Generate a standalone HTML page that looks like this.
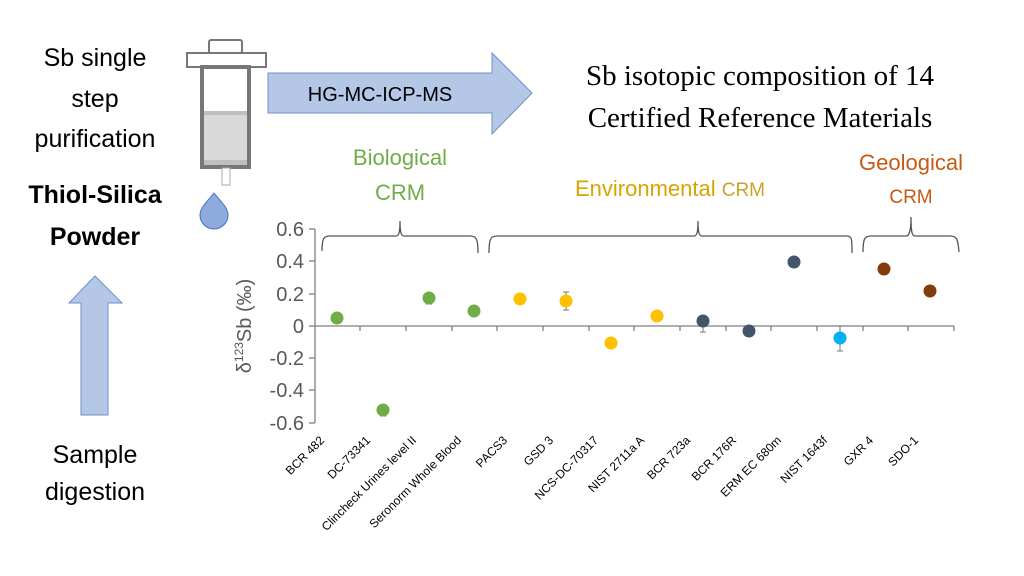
<!DOCTYPE html>
<html><head><meta charset="utf-8"><style>
html,body{margin:0;padding:0;background:#fff;}
svg{display:block;}
</style></head><body>
<svg width="1024" height="576" viewBox="0 0 1024 576" xmlns="http://www.w3.org/2000/svg" font-family="Liberation Sans, sans-serif">
<rect width="1024" height="576" fill="#fff"/>
<g font-size="25" text-anchor="middle" fill="#000">
<text x="95" y="66">Sb single</text>
<text x="95" y="107">step</text>
<text x="95" y="147">purification</text>
<text x="95" y="203" font-weight="bold">Thiol-Silica</text>
<text x="95" y="245" font-weight="bold">Powder</text>
<text x="95" y="463">Sample</text>
<text x="95" y="500">digestion</text>
</g>
<polygon points="95,276 122,303 108,303 108,415 81,415 81,303 69,303" fill="#b4c7e7" stroke="#6f8fc7" stroke-width="1"/>
<rect x="209" y="40" width="33" height="13" rx="2" fill="#fff" stroke="#777" stroke-width="2"/>
<rect x="187" y="53" width="79" height="14" fill="#fff" stroke="#777" stroke-width="2"/>
<rect x="202" y="67" width="47" height="100" fill="#fff" stroke="#777" stroke-width="4"/>
<rect x="204" y="111" width="43" height="54" fill="#d9d9d9"/>
<rect x="204" y="111" width="43" height="4" fill="#bfbfbf"/>
<rect x="204" y="160" width="43" height="5" fill="#bfbfbf"/>
<rect x="222" y="168" width="8" height="17" fill="#fff" stroke="#aaa" stroke-width="1"/>
<path d="M214,193 C222,203 228,208 228,215 A14,14 0 0 1 200,215 C200,208 206,203 214,193 Z" fill="#8faadc" stroke="#4472c4" stroke-width="1"/>
<polygon points="268,73 492,73 492,53 532,93 492,134 492,113 268,113" fill="#b4c7e7" stroke="#6f8fc7" stroke-width="1"/>
<text x="380" y="101" font-size="20" text-anchor="middle" fill="#000">HG-MC-ICP-MS</text>
<g font-family="Liberation Serif, serif" font-size="29" text-anchor="middle" fill="#000">
<text x="760" y="85">Sb isotopic composition of 14</text>
<text x="760" y="127">Certified Reference Materials</text>
</g>
<g font-size="22" text-anchor="middle">
<text x="400" y="165" fill="#70ad47">Biological</text>
<text x="400" y="200" fill="#70ad47">CRM</text>
<text x="670" y="196"><tspan fill="#d9a300">Environmental</tspan> <tspan font-size="19" fill="#c9a227">CRM</tspan></text>
<text x="911" y="170" fill="#c55a11">Geological</text>
<text x="911" y="203" font-size="19" fill="#c55a11">CRM</text>
</g>
<g fill="none" stroke="#555" stroke-width="1.3">
<path d="M322,251 C322,238 324,236 330,236 L396,236 C399,236 400,232 400,221 C400,232 401,236 404,236 L470,236 C476,236 478,238 478,253"/>
<path d="M489,253 C489,238 491,236 497,236 L694,236 C697,236 698,232 698,221 C698,232 699,236 702,236 L846,236 C852,236 852,238 852,253"/>
<path d="M863,252 C863,238 865,236 871,236 L906,236 C909,236 911,232 911,217 C911,232 912,236 915,236 L950,236 C956,236 958,238 959,252"/>
</g>
<g stroke="#7f7f7f" stroke-width="1.3" fill="none">
<line x1="315" y1="229" x2="315" y2="423"/>
<line x1="309" y1="229" x2="315" y2="229"/>
<line x1="309" y1="261" x2="315" y2="261"/>
<line x1="309" y1="294" x2="315" y2="294"/>
<line x1="309" y1="326" x2="315" y2="326"/>
<line x1="309" y1="358" x2="315" y2="358"/>
<line x1="309" y1="390" x2="315" y2="390"/>
<line x1="309" y1="423" x2="315" y2="423"/>
<line x1="315" y1="326" x2="954" y2="326"/>
<path d="M360,326v5M406,326v5M452,326v5M497,326v5M543,326v5M589,326v5M634,326v5M680,326v5M726,326v5M771,326v5M817,326v5M863,326v5M908,326v5M954,326v5"/>
</g>
<g font-size="20" fill="#595959" text-anchor="end">
<text x="304" y="236">0.6</text>
<text x="304" y="268">0.4</text>
<text x="304" y="301">0.2</text>
<text x="304" y="333">0</text>
<text x="304" y="365">-0.2</text>
<text x="304" y="397">-0.4</text>
<text x="304" y="430">-0.6</text>
</g>
<text transform="translate(251,326) rotate(-90)" font-size="20" fill="#595959" text-anchor="middle">δ<tspan font-size="12" dy="-8">123</tspan><tspan dy="8">Sb (‰)</tspan></text>
<g stroke="#777" stroke-width="1">
<path d="M383,405v11M380,405h6M380,416h6"/>
<path d="M429,293v11M426,293h6M426,304h6"/>
<path d="M566,292v18M563,292h6M563,310h6"/>
<path d="M703,320v12M700,320h6M700,332h6"/>
<path d="M840,326v25M837,326h6M837,351h6"/>
</g>
<g>
<circle cx="337" cy="318" r="6.5" fill="#70ad47"/>
<circle cx="383" cy="410" r="6.5" fill="#70ad47"/>
<circle cx="429" cy="298" r="6.5" fill="#70ad47"/>
<circle cx="474" cy="311" r="6.5" fill="#70ad47"/>
<circle cx="520" cy="299" r="6.5" fill="#ffc000"/>
<circle cx="566" cy="301" r="6.5" fill="#ffc000"/>
<circle cx="611" cy="343" r="6.5" fill="#ffc000"/>
<circle cx="657" cy="316" r="6.5" fill="#ffc000"/>
<circle cx="703" cy="321" r="6.5" fill="#44546a"/>
<circle cx="749" cy="331" r="6.5" fill="#44546a"/>
<circle cx="794" cy="262" r="6.5" fill="#44546a"/>
<circle cx="840" cy="338" r="6.5" fill="#00b0f0"/>
<circle cx="884" cy="269" r="6.5" fill="#843c0c"/>
<circle cx="930" cy="291" r="6.5" fill="#843c0c"/>
</g>
<g font-size="12" fill="#000" text-anchor="end">
<text transform="translate(325,441) rotate(-45)">BCR 482</text>
<text transform="translate(371,441) rotate(-45)">DC-73341</text>
<text transform="translate(417,441) rotate(-45)">Clincheck Urines level II</text>
<text transform="translate(462,441) rotate(-45)">Seronorm Whole Blood</text>
<text transform="translate(508,441) rotate(-45)">PACS3</text>
<text transform="translate(554,441) rotate(-45)">GSD 3</text>
<text transform="translate(599,441) rotate(-45)">NCS-DC-70317</text>
<text transform="translate(645,441) rotate(-45)">NIST 2711a A</text>
<text transform="translate(691,441) rotate(-45)">BCR 723a</text>
<text transform="translate(737,441) rotate(-45)">BCR 176R</text>
<text transform="translate(782,441) rotate(-45)">ERM EC 680m</text>
<text transform="translate(828,441) rotate(-45)">NIST 1643f</text>
<text transform="translate(874,441) rotate(-45)">GXR 4</text>
<text transform="translate(919,441) rotate(-45)">SDO-1</text>
</g>
</svg>
</body></html>
